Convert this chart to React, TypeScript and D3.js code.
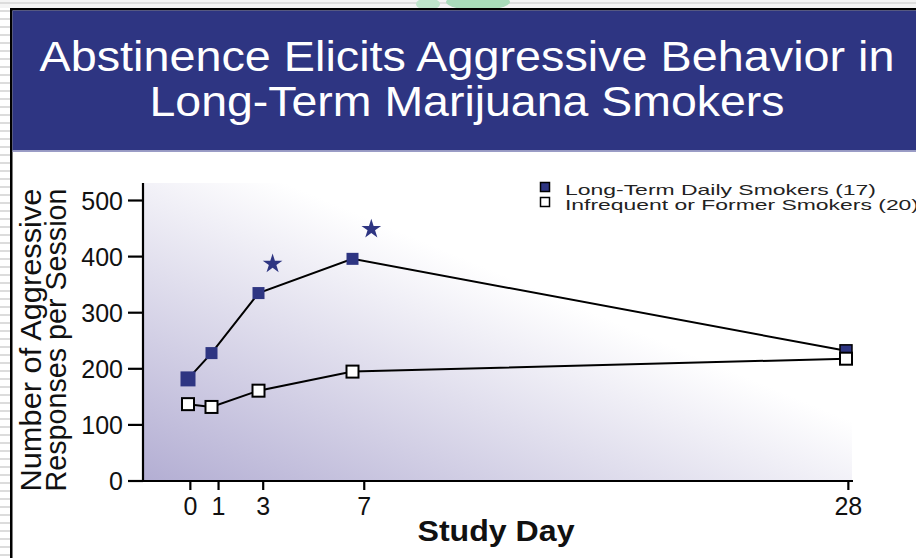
import React from "react";
import * as d3 from "d3";

const titleLines = ["Abstinence Elicits Aggressive Behavior in", "Long-Term Marijuana Smokers"];
const studyDays = [0, 1, 3, 7, 28];
const longTermDaily = [182, 228, 335, 396, 232];
const infrequentFormer = [137, 132, 161, 195, 218];
const seriesNames = ["Long-Term Daily Smokers (17)", "Infrequent or Former Smokers (20)"];
const xTickLabels = ["0", "1", "3", "7", "28"];
const xTickAt = [0.1, 1.3, 3.2, 7.5, 28.1];
const yTicks = [0, 100, 200, 300, 400, 500];
const starDays = [3.6, 7.8];
const starValues = [387, 449];
const yLabelLines = ["Number of Aggressive", "Responses per Session"];
const xLabel = "Study Day";

const W = 916;
const H = 558;
const FONT = "'Liberation Sans', Arial, Helvetica, sans-serif";
const BLUE = "#2e3582";

export default function App() {
  const x = d3.scaleLinear().domain([0, 28]).range([188, 846]);
  const y = d3.scaleLinear().domain([0, 500]).range([481, 200.5]);
  const axisLeft = 143;
  const axisRight = 852;
  const axisTop = 183;
  const axisBottom = y(0);

  const line = d3
    .line<number>()
    .x((_, i) => x(studyDays[i]))
    .y((v) => y(v));

  const star = d3.symbol().type(d3.symbolStar).size(120)();

  const stripes = d3.range(0, H, 8);

  return (
    <svg
      width={W}
      height={H}
      viewBox={`0 0 ${W} ${H}`}
      style={{ position: "absolute", left: 0, top: 0, background: "#fff" }}
      fontFamily={FONT}
    >
      <defs>
        <linearGradient id="plotGrad" x1="0" y1="1" x2="0.6" y2="0.4">
          <stop offset="0" stopColor="#b3aed3" />
          <stop offset="1" stopColor="#ffffff" />
        </linearGradient>
      </defs>
      {/* page decoration */}
      <rect x={0} y={0} width={W} height={8} fill="#f4f4f4" />
      <rect x={0} y={2} width={W} height={2} fill="#dedede" />
      {stripes.map((s) => (
        <rect key={s} x={0} y={s + 2} width={10} height={2} fill="#dcdcdc" />
      ))}
      <ellipse cx={478} cy={2} rx={32} ry={8} fill="#a9dcba" />
      <ellipse cx={428} cy={4} rx={12} ry={6} fill="#bfe6cb" />
      {/* frame */}
      <rect x={10} y={8} width={W - 10} height={2.5} fill="#000" />
      <rect x={10} y={8} width={2.5} height={H - 8} fill="#000" />
      <rect x={12.5} y={10.5} width={W - 12.5} height={140} fill={BLUE} />
      <rect x={12.5} y={150.5} width={W - 12.5} height={1.5} fill="#9a9cc6" />
      {/* title */}
      <text x={467} y={71} fill="#fff" fontSize={43} textAnchor="middle" textLength={855} lengthAdjust="spacingAndGlyphs">
        {titleLines[0]}
      </text>
      <text x={467} y={116} fill="#fff" fontSize={43} textAnchor="middle" textLength={635} lengthAdjust="spacingAndGlyphs">
        {titleLines[1]}
      </text>

      {/* plot background */}
      <rect x={axisLeft} y={axisTop} width={axisRight - axisLeft} height={axisBottom - axisTop} fill="url(#plotGrad)" />

      {/* axes */}
      <line x1={axisLeft} x2={axisLeft} y1={axisTop} y2={axisBottom + 1} stroke="#000" strokeWidth={2.2} />
      <line x1={axisLeft - 1} x2={axisRight + 1} y1={axisBottom} y2={axisBottom} stroke="#000" strokeWidth={2.2} />
      {yTicks.map((t) => (
        <g key={t}>
          <line x1={axisLeft - 15} x2={axisLeft} y1={y(t)} y2={y(t)} stroke="#000" strokeWidth={2.2} />
          <text x={axisLeft - 20} y={y(t) + 9} fontSize={25} textAnchor="end" fill="#111">
            {t}
          </text>
        </g>
      ))}
      {xTickAt.map((d, i) => (
        <g key={i}>
          <line x1={x(d)} x2={x(d)} y1={axisBottom} y2={axisBottom + 9} stroke="#000" strokeWidth={2.2} />
          <text x={x(d)} y={515} fontSize={25} textAnchor="middle" fill="#111">
            {xTickLabels[i]}
          </text>
        </g>
      ))}
      <text x={496} y={541} fontSize={30} fontWeight="bold" textAnchor="middle" fill="#111" textLength={157} lengthAdjust="spacingAndGlyphs">
        {xLabel}
      </text>
      {yLabelLines.map((l, i) => (
        <text
          key={i}
          transform={`translate(${41 + i * 25},340) rotate(-90)`}
          fontSize={29}
          textAnchor="middle"
          fill="#111"
          textLength={303}
          lengthAdjust="spacingAndGlyphs"
        >
          {l}
        </text>
      ))}

      {/* series lines */}
      <path d={line(longTermDaily) || ""} fill="none" stroke="#000" strokeWidth={2} />
      <path d={line(infrequentFormer) || ""} fill="none" stroke="#000" strokeWidth={2} />

      {/* markers */}
      {longTermDaily.map((v, i) => {
        const s = i === 0 ? 15 : 12;
        return (
          <rect
            key={"f" + i}
            x={x(studyDays[i]) - s / 2}
            y={y(v) - s / 2}
            width={s}
            height={s}
            fill={BLUE}
            stroke={i === 4 ? "#000" : "none"}
            strokeWidth={1.5}
          />
        );
      })}
      {infrequentFormer.map((v, i) => (
        <rect
          key={"o" + i}
          x={x(studyDays[i]) - 6}
          y={y(v) - 6}
          width={12}
          height={12}
          fill="#fff"
          stroke="#000"
          strokeWidth={2}
        />
      ))}

      {/* significance stars */}
      {starDays.map((d, i) => (
        <path key={"s" + i} d={star || ""} transform={`translate(${x(d)},${y(starValues[i])})`} fill={BLUE} />
      ))}

      {/* legend */}
      <rect x={540.5} y={182.5} width={9} height={9} fill={BLUE} stroke="#000" strokeWidth={1.5} />
      <rect x={540.5} y={197.5} width={9} height={9} fill="#fff" stroke="#000" strokeWidth={1.5} />
      <text x={565} y={194.5} fontSize={15} fill="#222" textLength={311} lengthAdjust="spacingAndGlyphs">
        {seriesNames[0]}
      </text>
      <text x={565} y={210} fontSize={15} fill="#222" textLength={354} lengthAdjust="spacingAndGlyphs">
        {seriesNames[1]}
      </text>
    </svg>
  );
}
